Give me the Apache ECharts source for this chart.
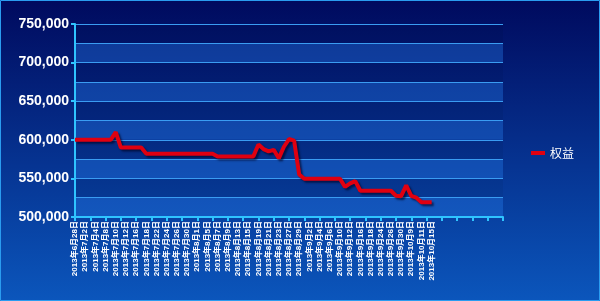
<!DOCTYPE html>
<html><head><meta charset="utf-8">
<script src="https://cdn.jsdelivr.net/npm/echarts@6/dist/echarts.min.js"></script>
<style>html,body{margin:0;padding:0;}#c{width:600px;height:301px;}</style>
</head><body><div id="c"></div>
<script>
const dates = [
 '2013年6月28日','2013年7月1日','2013年7月2日','2013年7月3日','2013年7月4日','2013年7月5日','2013年7月8日','2013年7月9日',
 '2013年7月10日','2013年7月11日','2013年7月12日','2013年7月15日','2013年7月16日','2013年7月17日','2013年7月18日','2013年7月19日',
 '2013年7月22日','2013年7月23日','2013年7月24日','2013年7月25日','2013年7月26日','2013年7月29日','2013年7月30日','2013年7月31日',
 '2013年8月1日','2013年8月2日','2013年8月5日','2013年8月6日','2013年8月7日','2013年8月8日','2013年8月9日','2013年8月12日',
 '2013年8月13日','2013年8月14日','2013年8月15日','2013年8月16日','2013年8月19日','2013年8月20日','2013年8月21日','2013年8月22日',
 '2013年8月23日','2013年8月26日','2013年8月27日','2013年8月28日','2013年8月29日','2013年8月30日','2013年9月2日','2013年9月3日',
 '2013年9月4日','2013年9月5日','2013年9月6日','2013年9月9日','2013年9月10日','2013年9月11日','2013年9月12日','2013年9月13日',
 '2013年9月16日','2013年9月17日','2013年9月18日','2013年9月23日','2013年9月24日','2013年9月25日','2013年9月26日','2013年9月27日',
 '2013年9月30日','2013年10月8日','2013年10月9日','2013年10月10日','2013年10月11日','2013年10月14日','2013年10月15日'
];
const emptySlots = 14;
const equity = [
 600000,600000,600000,600000,600000,600000,600000,600000,
 610000,590000,590000,590000,590000,590000,582000,582000,
 582000,582000,582000,582000,582000,582000,582000,582000,
 582000,582000,582000,582000,578500,578500,578500,578500,
 578500,578500,578500,578500,594000,588000,585000,587000,
 576000,591000,601000,599000,555000,549500,549500,549500,
 549500,549500,549500,549500,549500,539000,543500,546500,
 534000,534000,534000,534000,534000,534000,534000,527500,
 527000,541000,527500,525000,519000,519000,519000
];
const seriesName = '权益';
const yMin = 500000, yMax = 750000;

const categories = dates.concat(new Array(emptySlots).fill(''));
const chart = echarts.init(document.getElementById('c'), null, {renderer:'canvas'});
chart.setOption({
  animation:false,
  backgroundColor:{type:'linear',x:0,y:0,x2:0,y2:1,colorStops:[{offset:0,color:'#000a5e'},{offset:1,color:'#0b56bc'}]},
  graphic:[{type:'rect',shape:{x:0.5,y:0.5,width:599,height:300},style:{fill:'none',stroke:'#2a9cf0',lineWidth:1}}],
  grid:{left:75,top:24,right:97,bottom:84},
  legend:{data:[{name:seriesName,icon:'rect'}],orient:'vertical',left:526,top:142,itemWidth:14,itemHeight:4,itemGap:6,
    textStyle:{color:'#ffffff',fontSize:12,fontFamily:'Noto Sans CJK SC'}},
  xAxis:{type:'category',data:categories,boundaryGap:false,
    axisLine:{show:true,lineStyle:{color:'#2fc4ff',width:2}},
    axisTick:{show:true,interval:2,length:4,lineStyle:{color:'#2fc4ff',width:2}},
    axisLabel:{interval:1,rotate:90,color:'#ffffff',fontSize:8,fontWeight:'bold',fontFamily:'Liberation Sans, Noto Sans CJK SC',margin:4},
    splitLine:{show:false}},
  yAxis:[
    {type:'value',min:yMin,max:yMax,interval:50000,
      axisLine:{show:true,lineStyle:{color:'#2fc4ff',width:2}},
      axisTick:{show:true,length:4,lineStyle:{color:'#2fc4ff',width:2}},
      axisLabel:{color:'#ffffff',fontSize:14,fontWeight:'bold',fontFamily:'Liberation Sans',margin:6,
        formatter:v=>v.toLocaleString('en-US')},
      splitLine:{show:false}},
    {type:'value',min:yMin,max:yMax,interval:25000,position:'left',
      axisLine:{show:false},axisTick:{show:false},axisLabel:{show:false},
      splitLine:{show:true,lineStyle:{color:'#3a9cf2',width:1}},
      splitArea:{show:true,areaStyle:{color:['rgba(40,130,240,0.35)','rgba(0,0,0,0.05)']}}}
  ],
  series:[{name:seriesName,type:'line',data:equity,yAxisIndex:0,showSymbol:false,symbol:'none',
    lineStyle:{color:'#e00010',width:4,shadowColor:'rgba(0,0,30,0.6)',shadowOffsetX:2,shadowOffsetY:2,shadowBlur:2},
    itemStyle:{color:'#e00010'}}]
});
</script></body></html>
